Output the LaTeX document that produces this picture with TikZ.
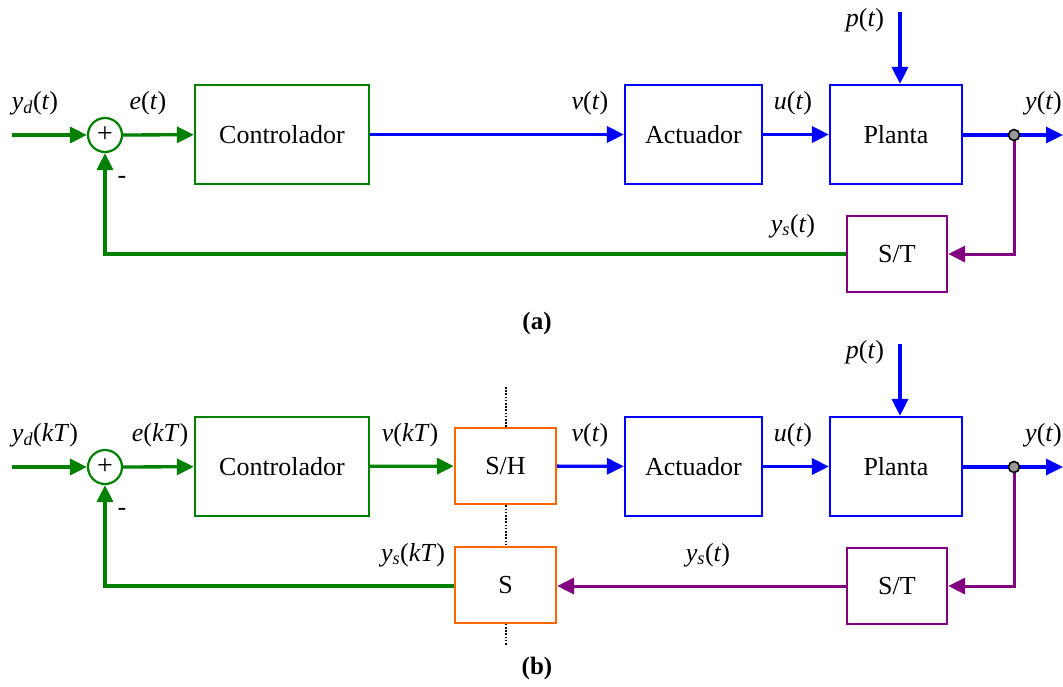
\documentclass[tikz,border=0pt]{standalone}
\usepackage{fontspec}
\setmainfont{Liberation Serif}
\usetikzlibrary{arrows.meta}
\definecolor{cgreen}{RGB}{0,128,0}
\definecolor{cblue}{RGB}{0,0,255}
\definecolor{cpurple}{RGB}{128,0,128}
\definecolor{corange}{RGB}{255,102,0}
\newcommand\vi[1]{\textit{#1}}
\tikzset{
  blk/.style={draw, line width=2.2pt, fill=white, inner sep=0pt,
    font=\fontsize{26}{30}\selectfont},
  gbox/.style={blk, draw=cgreen},
  bbox/.style={blk, draw=cblue},
  pbox/.style={blk, draw=cpurple},
  obox/.style={blk, draw=corange},
  lbl/.style={inner sep=0pt, font=\fontsize{26}{30}\selectfont},
  tip/.style={-{Triangle[length=17pt,width=16pt]}},
  gline/.style={draw=cgreen, line width=3.3pt},
  bline/.style={draw=cblue, line width=3.3pt},
  pline/.style={draw=cpurple, line width=3pt},
  sumnode/.style={circle, draw=cgreen, line width=2.2pt, minimum size=34pt,
    inner sep=0pt, fill=white, font=\fontsize{28}{30}\selectfont},
  tap/.style={circle, draw=black, fill=gray!80, line width=1.6pt,
    minimum size=11pt, inner sep=0pt},
  cut/.style={draw=black, line width=1.8pt, dash pattern=on 1.6pt off 1.6pt}
}
\begin{document}
\begin{tikzpicture}[x=1pt,y=-1pt]
\useasboundingbox (0,0) rectangle (1063,686);

% ---------- (a) continuous loop ----------
\coordinate (ainA) at (12,135);
\node[sumnode] (asum) at (105,135) {\raisebox{0pt}{+}};
\node[gbox, minimum width=174pt, minimum height=99pt] (actl) at (282,134.5) {Controlador};
\node[bbox, minimum width=137pt, minimum height=99pt] (aact) at (693.5,134.5) {Actuador};
\node[bbox, minimum width=132pt, minimum height=99pt] (aplt) at (896,134.5) {Planta};
\node[pbox, minimum width=100pt, minimum height=76pt] (ast) at (897,254) {S/T};
\coordinate (apin) at (900,12);
\coordinate (aout) at (1063,135);
\coordinate (atap) at (1014,135);

\draw[gline, tip] (ainA) -- (asum);
\draw[gline, tip] (asum) -- (actl);
\draw[bline, tip] (actl) -- (aact);
\draw[bline, tip] (aact) -- (aplt);
\draw[bline, tip] (apin) -- (aplt.north -| apin);
\draw[bline, tip] (aplt.east |- atap) -- (aout);
\draw[pline, tip] (atap) |- (ast.east);
\draw[gline, tip] (ast.west) -| (asum.south);
\node[tap] (atapdot) at (atap) {};

\node[lbl] (la1) at (35,103) {\vi{y}\textsubscript{\vi{d}}(\vi{t})};
\node[lbl] (la2) at (148,103) {\vi{e}(\vi{t})};
\node[lbl] (la3) at (590,103) {\vi{v}(\vi{t})};
\node[lbl] (la4) at (793,103) {\vi{u}(\vi{t})};
\node[lbl] (la5) at (865,20) {\vi{p}(\vi{t})};
\node[lbl, anchor=east] (la6) at (1062,103) {\vi{y}(\vi{t})};
\node[lbl] (la7) at (793,226) {\vi{y}\textsubscript{\vi{s}}(\vi{t})};
\node[lbl] (la8) at (122,180) {-};
\node[lbl, font=\fontsize{25}{29}\selectfont\bfseries] (lacap) at (537,323) {(a)};

% ---------- (b) sampled loop ----------
\draw[cut] (506,387) -- (506,645);
\coordinate (binA) at (12,467);
\node[sumnode] (bsum) at (105,467) {\raisebox{0pt}{+}};
\node[gbox, minimum width=174pt, minimum height=99pt] (bctl) at (282,466.5) {Controlador};
\node[obox, minimum width=101pt, minimum height=76pt] (bsh) at (505.5,466) {S/H};
\node[bbox, minimum width=137pt, minimum height=99pt] (bact) at (693.5,466.5) {Actuador};
\node[bbox, minimum width=132pt, minimum height=99pt] (bplt) at (896,466.5) {Planta};
\node[obox, minimum width=101pt, minimum height=76pt] (bs) at (505.5,585) {S};
\node[pbox, minimum width=100pt, minimum height=76pt] (bst) at (897,586) {S/T};
\coordinate (bpin) at (900,344);
\coordinate (bout) at (1063,467);
\coordinate (btap) at (1014,467);

\draw[gline, tip] (binA) -- (bsum);
\draw[gline, tip] (bsum) -- (bctl);
\draw[gline, tip] (bctl) -- (bsh);
\draw[bline, tip] (bsh) -- (bact);
\draw[bline, tip] (bact) -- (bplt);
\draw[bline, tip] (bpin) -- (bplt.north -| bpin);
\draw[bline, tip] (bplt.east |- btap) -- (bout);
\draw[pline, tip] (btap) |- (bst.east);
\draw[pline, tip] (bst.west) -- (bs.east |- bst.west);
\draw[gline, tip] (bs.west |- bst.west) -| (bsum.south);
\node[tap] (btapdot) at (btap) {};

\node[lbl] (lb1) at (45,435) {\vi{y}\textsubscript{\vi{d}}(\vi{kT})};
\node[lbl] (lb2) at (160,435) {\vi{e}(\vi{kT})};
\node[lbl] (lb3) at (410,435) {\vi{v}(\vi{kT})};
\node[lbl] (lb4) at (590,435) {\vi{v}(\vi{t})};
\node[lbl] (lb5) at (793,435) {\vi{u}(\vi{t})};
\node[lbl] (lb6) at (865,352) {\vi{p}(\vi{t})};
\node[lbl, anchor=east] (lb7) at (1062,435) {\vi{y}(\vi{t})};
\node[lbl] (lb8) at (413,555) {\vi{y}\textsubscript{\vi{s}}(\vi{kT})};
\node[lbl] (lb9) at (708,555) {\vi{y}\textsubscript{\vi{s}}(\vi{t})};
\node[lbl] (lb10) at (122,512) {-};
\node[lbl, font=\fontsize{25}{29}\selectfont\bfseries] (lbcap) at (537,668) {(b)};
\end{tikzpicture}
\end{document}
